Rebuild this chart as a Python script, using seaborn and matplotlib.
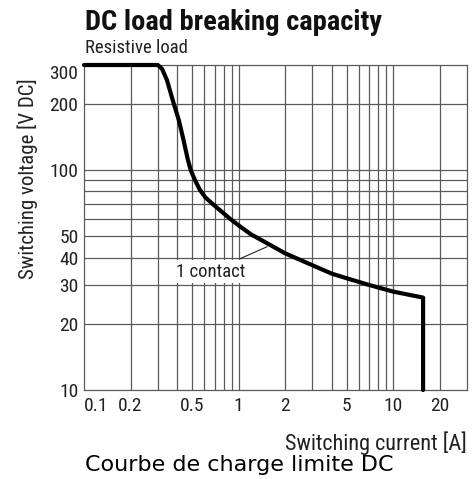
import numpy as np
import pandas as pd
import seaborn as sns
import matplotlib.pyplot as plt
from matplotlib.ticker import FixedLocator, NullFormatter

# curve (current in A, voltage in V DC)
current = [0.1, 0.3, 0.32, 0.344, 0.38, 0.41, 0.44, 0.47, 0.49, 0.52, 0.56, 0.61, 0.68,
           0.77, 0.88, 1.0, 1.2, 1.46, 2, 3, 4, 5, 7, 10, 15.6, 15.6]
voltage = [300, 300, 288, 256, 201, 169, 137, 111, 100, 90.5, 81.5, 75, 70,
           65, 60, 56, 51, 47.3, 41.8, 36.9, 33.8, 32.2, 30, 28, 26.3, 10]

x_ticks = [0.1, 0.2, 0.5, 1, 2, 5, 10, 20]
x_labels = ["0.1", "0.2", "0.5", "1", "2", "5", "10", "20"]
x_grid = [0.2, 0.3, 0.4, 0.5, 0.6, 0.7, 0.8, 0.9, 1, 2, 3, 4, 5, 6, 7, 8, 9, 10, 20]
y_ticks = [10, 20, 30, 40, 50, 100, 200, 300]
y_labels = ["10", "20", "30", "40", "50", "100", "200", "300"]
y_grid = [20, 30, 40, 50, 60, 70, 80, 90, 100, 200]

df = pd.DataFrame({"current": current, "voltage": voltage})

sns.set_style("white")
narrow = ["Roboto Condensed", "Barlow Condensed", "DejaVu Sans"]
plt.rcParams["font.family"] = narrow

fig = plt.figure(figsize=(4.75, 4.79), dpi=100)
ax = fig.add_axes([84 / 475, 1 - 390 / 479, 383 / 475, 325 / 479])

ax.set_xscale("log")
ax.set_yscale("log")
ax.set_xlim(0.1, 30)
ax.set_ylim(10, 300)

grid_col = "#5a5a5a"
for gx in x_grid:
    ax.axvline(gx, color=grid_col, lw=0.9, zorder=1)
for gy in y_grid:
    ax.axhline(gy, color=grid_col, lw=0.9, zorder=1)
for s in ax.spines.values():
    s.set_color(grid_col)
    s.set_linewidth(0.9)

sns.lineplot(data=df, x="current", y="voltage", sort=False, estimator=None,
             color="black", lw=3, ax=ax, zorder=4, clip_on=False)

ax.xaxis.set_major_locator(FixedLocator(x_ticks))
ax.set_xticklabels(x_labels)
ax.xaxis.set_minor_formatter(NullFormatter())
ax.yaxis.set_major_locator(FixedLocator(y_ticks))
ax.set_yticklabels(y_labels)
ax.yaxis.set_minor_formatter(NullFormatter())
ax.tick_params(which="both", length=0, labelsize=14, colors="#222222")
ax.tick_params(axis="x", pad=5)
ax.tick_params(axis="y", pad=4)
# end labels sit inside the frame like on the datasheet
ax.get_xticklabels()[0].set_ha("left")
ax.get_yticklabels()[-1].set_va("top")

ax.set_xlabel("")
ax.set_ylabel("")
fig.text(467 / 475, 1 - 450 / 479, "Switching current [A]", ha="right", va="baseline",
         fontsize=16, color="#222222")
fig.text(28 / 475, 1 - 179 / 479, "Switching voltage [V DC]", rotation=90,
         ha="center", va="center", fontsize=15, color="#222222")

ax.annotate("1 contact", xy=(1.53, 44.8), xytext=(0.66, 34.5),
            ha="center", va="center", fontsize=13.5, color="#222222",
            bbox=dict(boxstyle="square,pad=0.15", fc="white", ec="none"),
            arrowprops=dict(arrowstyle="-", color="#222222", lw=0.8,
                            shrinkA=2, shrinkB=0),
            zorder=5)

fig.text(85 / 475, 1 - 30 / 479, "DC load breaking capacity", ha="left", va="baseline",
         fontsize=20.5, fontweight="heavy", color="#111111")
fig.text(85 / 475, 1 - 53 / 479, "Resistive load", ha="left", va="baseline",
         fontsize=13.5, color="#222222")
fig.text(85 / 475, 1 - 471 / 479, "Courbe de charge limite DC", ha="left", va="baseline",
         fontsize=16, color="black", family=["DejaVu Sans"])

fig.savefig("out.png", dpi=100, facecolor="white")
